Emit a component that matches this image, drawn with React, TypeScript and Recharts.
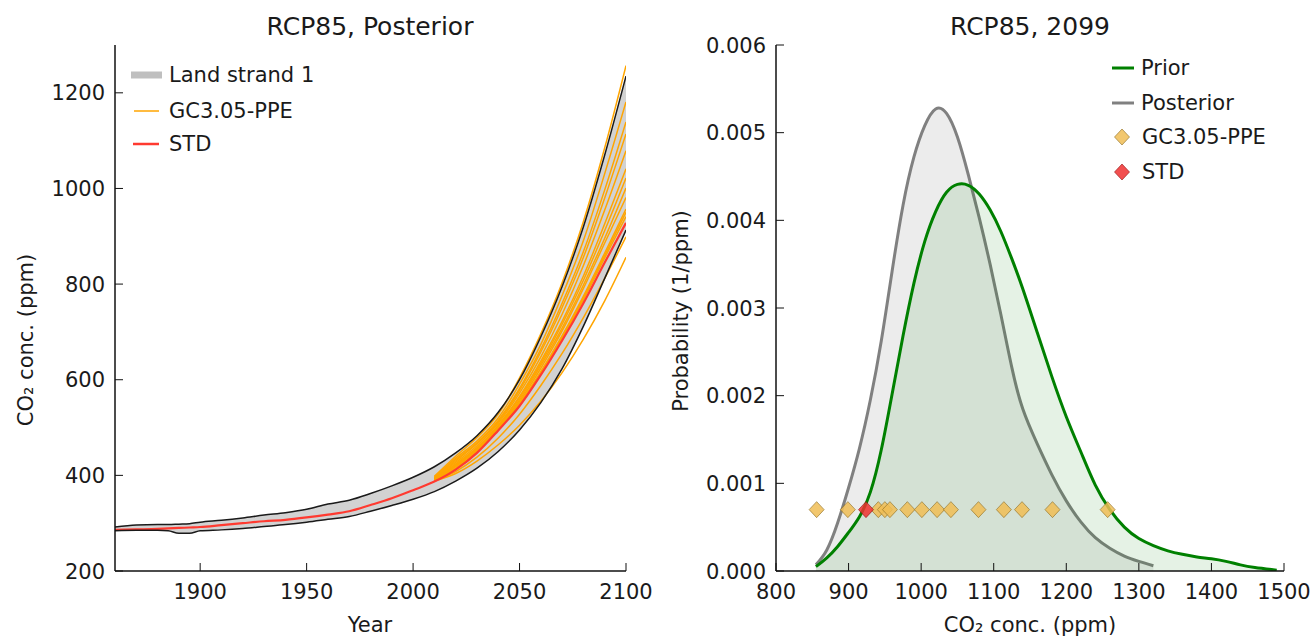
import { ComposedChart, Line, Area, XAxis, YAxis } from 'recharts';

const FONT = '"DejaVu Sans", sans-serif';

// ---- left panel: RCP85 posterior time series (ppm) ----
const YEARS = [1860, 1870, 1880, 1885, 1890, 1895, 1900, 1910, 1920, 1930, 1940, 1950, 1960, 1970, 1980, 1990, 2000, 2010, 2020, 2030, 2040, 2050, 2060, 2070, 2080, 2090, 2100];
const LOWER = [284, 285, 285, 284, 279, 279, 284, 286, 289, 293, 297, 302, 308, 314, 325, 337, 350, 366, 388, 415, 450, 495, 552, 623, 712, 812, 913];
const UPPER = [292, 296, 297, 297, 298, 299, 302, 306, 311, 317, 322, 329, 340, 348, 362, 378, 396, 418, 447, 483, 532, 600, 690, 795, 920, 1070, 1235];
const STD_RUN = [286, 287, 288, 289, 290, 291, 292, 296, 300, 304, 307, 312, 318, 325, 338, 352, 369, 387, 412, 447, 494, 545, 610, 682, 760, 845, 928];

const PPE_YEARS = [2010, 2020, 2030, 2040, 2050, 2060, 2070, 2080, 2090, 2100];
const PPE_RUNS = [
  [388, 404, 430, 464, 505, 555, 615, 685, 765, 856],
  [389, 408, 438, 478, 528, 588, 655, 730, 812, 899],
  [390, 413, 448, 496, 548, 614, 687, 767, 855, 941],
  [390, 414, 449, 496, 549, 615, 689, 771, 860, 950],
  [390, 415, 450, 497, 550, 617, 692, 775, 865, 957],
  [391, 418, 452, 499, 554, 624, 702, 791, 886, 981],
  [391, 420, 454, 501, 558, 630, 708, 798, 896, 1001],
  [392, 422, 456, 503, 562, 634, 716, 808, 912, 1022],
  [392, 424, 458, 505, 565, 639, 722, 817, 926, 1041],
  [393, 427, 462, 509, 572, 648, 737, 839, 955, 1079],
  [394, 430, 466, 512, 578, 658, 751, 856, 980, 1114],
  [395, 433, 468, 515, 582, 664, 760, 868, 997, 1139],
  [396, 436, 472, 520, 591, 674, 776, 891, 1031, 1181],
  [398, 440, 479, 528, 604, 696, 803, 931, 1085, 1257],
];

const YEAR_TICKS = [1900, 1950, 2000, 2050, 2100];
const PPM_TICKS = [200, 400, 600, 800, 1000, 1200];

// ---- right panel: 2099 distributions (probability in 1e-3 / ppm) ----
const CONC = [855, 870, 885, 900, 915, 930, 945, 960, 975, 990, 1005, 1020, 1035, 1050, 1065, 1080, 1095, 1110, 1125, 1140, 1160, 1180, 1200, 1220, 1240, 1260, 1280, 1300, 1320, 1340, 1360, 1380, 1400, 1420, 1440, 1460, 1490];
const PRIOR = [0.05, 0.15, 0.28, 0.44, 0.62, 0.9, 1.38, 2.02, 2.68, 3.28, 3.76, 4.1, 4.32, 4.41, 4.4, 4.3, 4.12, 3.87, 3.56, 3.22, 2.72, 2.22, 1.76, 1.36, 0.98, 0.7, 0.5, 0.37, 0.29, 0.23, 0.19, 0.16, 0.14, 0.11, 0.07, 0.04, 0.01];
const POSTERIOR = [0.07, 0.24, 0.55, 0.95, 1.4, 1.95, 2.62, 3.42, 4.17, 4.72, 5.08, 5.27, 5.22, 4.95, 4.52, 4.03, 3.5, 2.92, 2.32, 1.85, 1.45, 1.1, 0.8, 0.56, 0.38, 0.26, 0.17, 0.11, 0.06, null, null, null, null, null, null, null, null];
const PPE_2099 = [856, 899, 941, 950, 957, 981, 1001, 1022, 1041, 1079, 1114, 1139, 1181, 1257];
const STD_2099 = [924];
const MARKER_LEVEL = 0.7;

const CONC_TICKS = [800, 900, 1000, 1100, 1200, 1300, 1400, 1500];
const PROB_TICKS = [0, 1, 2, 3, 4, 5, 6];

const leftData = YEARS.map((year, i) => {
  const row: Record<string, any> = {
    year,
    band: [LOWER[i], UPPER[i]],
    lower: LOWER[i],
    upper: UPPER[i],
    std: STD_RUN[i],
  };
  const j = PPE_YEARS.indexOf(year);
  PPE_RUNS.forEach((run, k) => {
    row['ppe' + k] = j >= 0 ? run[j] : null;
  });
  return row;
});

const rightData = CONC.map((x, i) => ({ x, prior: PRIOR[i], post: POSTERIOR[i] }));
const ppeMarks = PPE_2099.map((x) => ({ x, m: MARKER_LEVEL }));
const stdMarks = STD_2099.map((x) => ({ x, m: MARKER_LEVEL }));

const tickText = { fontFamily: FONT, fontSize: 21, fill: '#1a1a1a' };
const AXIS = { stroke: '#111', strokeWidth: 1.5 };
const TL = 8;

const bottomTick = (fmt: (v: number) => string) => (p: any) => (
  <g key={'b' + p.index}>
    <line x1={p.x} x2={p.x} y1={p.y} y2={p.y - TL} stroke="#111" />
    <text x={p.x} y={p.y + 28} textAnchor="middle" {...tickText}>{fmt(p.payload.value)}</text>
  </g>
);
const leftTick = (fmt: (v: number) => string) => (p: any) => (
  <g key={'l' + p.index}>
    <line x1={p.x} x2={p.x + TL} y1={p.y} y2={p.y} stroke="#111" />
    <text x={p.x - 10} y={p.y + 7.5} textAnchor="end" {...tickText}>{fmt(p.payload.value)}</text>
  </g>
);
const topTick = (p: any) => (
  <line key={'t' + p.index} x1={p.x} x2={p.x} y1={p.y} y2={p.y + TL} stroke="#111" />
);
const rightTick = (p: any) => (
  <line key={'r' + p.index} x1={p.x} x2={p.x - TL} y1={p.y} y2={p.y} stroke="#111" />
);

const diamond = (fill: string, stroke: string) => (p: any) => {
  const { cx, cy } = p;
  if (cx == null || cy == null) return <g key={'d' + p.index} />;
  return (
    <path
      key={'d' + p.index}
      d={`M${cx},${cy - 8} L${cx + 7.5},${cy} L${cx},${cy + 8} L${cx - 7.5},${cy} Z`}
      fill={fill}
      fillOpacity={0.85}
      stroke={stroke}
      strokeOpacity={0.6}
      strokeWidth={1}
    />
  );
};

function LeftPanel() {
  return (
    <ComposedChart width={680} height={639} data={leftData} margin={{ top: 45, right: 54, bottom: 28, left: 45 }}>
      <XAxis dataKey="year" type="number" domain={[1860, 2100]} ticks={YEAR_TICKS} interval={0} height={40}
        tickSize={0} tickMargin={0} tickLine={false} axisLine={AXIS} tick={bottomTick((v) => String(v))} allowDataOverflow />
      <XAxis xAxisId="top" orientation="top" type="number" domain={[1860, 2100]} ticks={YEAR_TICKS} interval={0} height={0}
        tickSize={0} tickMargin={0} tickLine={false} axisLine={AXIS} tick={topTick} allowDataOverflow />
      <YAxis type="number" domain={[200, 1300]} ticks={PPM_TICKS} interval={0} width={70}
        tickSize={0} tickMargin={0} tickLine={false} axisLine={AXIS} tick={leftTick((v) => String(v))} allowDataOverflow />
      <YAxis yAxisId="right" orientation="right" type="number" domain={[200, 1300]} ticks={PPM_TICKS} interval={0} width={0}
        tickSize={0} tickMargin={0} tickLine={false} axisLine={AXIS} tick={rightTick} allowDataOverflow />
      <Area dataKey="band" type="monotone" fill="#d2d2d2" fillOpacity={1} stroke="none" isAnimationActive={false} />
      {PPE_RUNS.map((_, k) => (
        <Line key={k} dataKey={'ppe' + k} type="monotone" stroke="#ffa500" strokeWidth={1.5} dot={false}
          activeDot={false} isAnimationActive={false} />
      ))}
      <Line dataKey="std" type="monotone" stroke="#ff3a30" strokeWidth={2.2} dot={false} activeDot={false} isAnimationActive={false} />
      <Line dataKey="upper" type="monotone" stroke="#1a1a1a" strokeWidth={1.5} dot={false} activeDot={false} isAnimationActive={false} />
      <Line dataKey="lower" type="monotone" stroke="#1a1a1a" strokeWidth={1.5} dot={false} activeDot={false} isAnimationActive={false} />
    </ComposedChart>
  );
}

function RightPanel() {
  return (
    <ComposedChart width={666} height={639} data={rightData} margin={{ top: 45, right: 32, bottom: 28, left: 46 }}>
      <XAxis dataKey="x" type="number" domain={[800, 1500]} ticks={CONC_TICKS} interval={0} height={40}
        tickSize={0} tickMargin={0} tickLine={false} axisLine={AXIS} tick={bottomTick((v) => String(v))} allowDataOverflow />
      <XAxis xAxisId="top" orientation="top" type="number" domain={[800, 1500]} ticks={CONC_TICKS} interval={0} height={0}
        tickSize={0} tickMargin={0} tickLine={false} axisLine={AXIS} tick={topTick} allowDataOverflow />
      <YAxis type="number" domain={[0, 6]} ticks={PROB_TICKS} interval={0} width={80}
        tickSize={0} tickMargin={0} tickLine={false} axisLine={AXIS} tick={leftTick((v) => (v / 1000).toFixed(3))} allowDataOverflow />
      <YAxis yAxisId="right" orientation="right" type="number" domain={[0, 6]} ticks={PROB_TICKS} interval={0} width={0}
        tickSize={0} tickMargin={0} tickLine={false} axisLine={AXIS} tick={rightTick} allowDataOverflow />
      <Area dataKey="post" type="natural" stroke="#808080" strokeWidth={3} fill="#808080" fillOpacity={0.15}
        dot={false} activeDot={false} isAnimationActive={false} />
      <Area dataKey="prior" type="natural" stroke="#008000" strokeWidth={3} fill="#008000" fillOpacity={0.1}
        dot={false} activeDot={false} isAnimationActive={false} />
      <Line data={ppeMarks} dataKey="m" stroke="none" dot={diamond('#f0bd55', '#8a6a20')} activeDot={false} isAnimationActive={false} />
      <Line data={stdMarks} dataKey="m" stroke="none" dot={diamond('#f03030', '#901010')} activeDot={false} isAnimationActive={false} />
    </ComposedChart>
  );
}

const label = { fontFamily: FONT, fontSize: 21, fill: '#1a1a1a' };

export default function App() {
  return (
    <div style={{ position: 'absolute', left: 0, top: 0, width: 1316, height: 639, background: '#fff', overflow: 'hidden' }}>
      <div style={{ position: 'absolute', left: 0, top: 0 }}>
        <LeftPanel />
      </div>
      <div style={{ position: 'absolute', left: 650, top: 0 }}>
        <RightPanel />
      </div>
      <svg width={1316} height={639} style={{ position: 'absolute', left: 0, top: 0, pointerEvents: 'none' }}>
        <text x={370} y={35} textAnchor="middle" {...label} fontSize={25}>RCP85, Posterior</text>
        <text x={1030} y={35} textAnchor="middle" {...label} fontSize={25}>RCP85, 2099</text>
        <text x={370} y={632} textAnchor="middle" {...label}>Year</text>
        <text x={1030} y={632} textAnchor="middle" {...label}>CO₂ conc. (ppm)</text>
        <text transform="translate(33,340) rotate(-90)" textAnchor="middle" {...label}>CO₂ conc. (ppm)</text>
        <text transform="translate(688,311) rotate(-90)" textAnchor="middle" {...label}>Probability (1/ppm)</text>

        {/* left legend */}
        <line x1={131} x2={162} y1={75} y2={75} stroke="#bfbfbf" strokeWidth={7} />
        <text x={169} y={82} {...label}>Land strand 1</text>
        <line x1={134} x2={159} y1={111} y2={111} stroke="#ffa500" strokeWidth={1.5} />
        <text x={169} y={118} {...label}>GC3.05-PPE</text>
        <line x1={133} x2={159} y1={144} y2={144} stroke="#ff3a30" strokeWidth={2.5} />
        <text x={169} y={151} {...label}>STD</text>

        {/* right legend */}
        <line x1={1112} x2={1134} y1={68} y2={68} stroke="#008000" strokeWidth={3} />
        <text x={1141} y={75} {...label}>Prior</text>
        <line x1={1112} x2={1134} y1={103} y2={103} stroke="#808080" strokeWidth={3} />
        <text x={1141} y={110} {...label}>Posterior</text>
        <path d="M1122,129 L1129.5,137 L1122,145 L1114.5,137 Z" fill="#f0bd55" fillOpacity={0.85} stroke="#8a6a20" strokeOpacity={0.6} />
        <text x={1142} y={144} {...label}>GC3.05-PPE</text>
        <path d="M1122,164 L1129.5,172 L1122,180 L1114.5,172 Z" fill="#f03030" fillOpacity={0.85} stroke="#901010" strokeOpacity={0.6} />
        <text x={1142} y={179} {...label}>STD</text>
      </svg>
    </div>
  );
}
